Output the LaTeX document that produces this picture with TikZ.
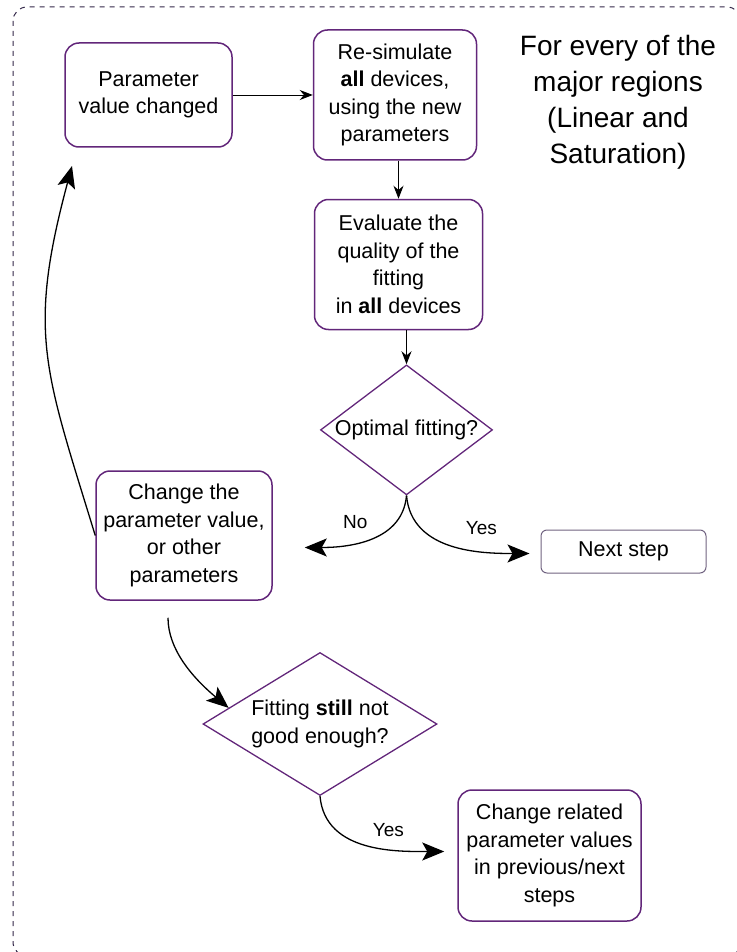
\documentclass[tikz,border=0pt]{standalone}
\usepackage{fontspec}
\setmainfont{Liberation Sans}
\usetikzlibrary{positioning,shapes.geometric,arrows.meta}
\definecolor{boxline}{RGB}{98,38,122}
\definecolor{frameline}{RGB}{50,38,72}
\definecolor{nextline}{RGB}{112,98,128}
\newcommand{\boxfont}{\fontsize{21.5}{27.5}\selectfont}
\tikzset{
	stepbox/.style={draw=boxline, line width=1.5pt, rounded corners=14pt, align=center, inner sep=2pt, font=\boxfont},
	decision/.style={draw=boxline, line width=1.3pt, diamond, inner sep=0pt, align=center, font=\boxfont},
	flow/.style={-{Stealth[length=13pt,width=10pt]}, line width=0.9pt},
	curvearrow/.style={-{Stealth[length=22pt,width=18pt,inset=5pt]}, line width=1.3pt},
	choice/.style={font=\fontsize{19}{21}\selectfont},
}

\begin{document}
\begin{tikzpicture}[x=1pt, y=1pt]
	\useasboundingbox (0,0) rectangle (736,-952);
	\draw[frameline, dash pattern=on 5pt off 5pt, line width=1pt, rounded corners=14pt] (13,-7) rectangle (741,-956);

	\node[stepbox, minimum width=167pt, minimum height=104pt] (param) at (148.5,-95) {Parameter\\value changed};
	\node[stepbox, minimum width=163pt, minimum height=130pt, right=80pt of param] (resim) {Re-simulate\\\textbf{all} devices,\\using the new\\parameters};
	\node[stepbox, minimum width=168pt, minimum height=130pt, below=38pt of resim, xshift=3.5pt] (eval) {Evaluate the\\quality of the\\fitting\\in \textbf{all} devices};
	\node[decision, aspect=1.32, minimum width=172pt, minimum height=130pt, below=34pt of eval, xshift=8pt] (opt) {Optimal fitting?};
	\node[stepbox, minimum width=176pt, minimum height=129pt] (change) at (184,-535.5) {Change the\\parameter value,\\or other\\parameters};
	\node[stepbox, draw=nextline, line width=1pt, rounded corners=6pt, minimum width=165pt, minimum height=43pt] (next) at (623.5,-551.5) {Next step};
	\node[decision, aspect=1.64, minimum width=234pt, minimum height=143pt] (still) at (320,-724) {Fitting \textbf{still} not\\good enough?};
	\node[stepbox, minimum width=183pt, minimum height=131pt] (related) at (549.5,-855.5) {Change related\\parameter values\\in previous/next\\steps};
	\node[align=center, font=\fontsize{28}{36}\selectfont] (title) at (618,-102) {For every of the\\major regions\\(Linear and\\Saturation)};
	\coordinate (backtip) at (72,-166);

	\draw[flow] (param) -- (resim);
	\draw[flow] (eval.north |- resim.south) -- (eval);
	\draw[flow] (opt.north |- eval.south) -- (opt);
	\draw[curvearrow, shorten >=16pt] (opt.south) to[out=-95, in=0] node[choice, pos=0.45, above left, yshift=5pt] {No} ([xshift=16pt, yshift=-12pt]change.east);
	\draw[curvearrow, shorten >=11pt] (opt.south) to[out=-85, in=180] node[choice, pos=0.55, above right, yshift=9pt] {Yes} ([yshift=-2pt]next.west);
	\draw[curvearrow] (change.west) to[out=107, in=-105, looseness=1.2] (backtip);
	\draw[curvearrow, shorten <=17pt] ([xshift=-16pt]change.south) to[out=-90, in=140] (still.170);
	\draw[curvearrow, shorten >=13pt] (still.south) to[out=-85, in=180] node[choice, pos=0.5, above right, yshift=5pt] {Yes} ([yshift=4pt]related.west);
\end{tikzpicture}
\end{document}
